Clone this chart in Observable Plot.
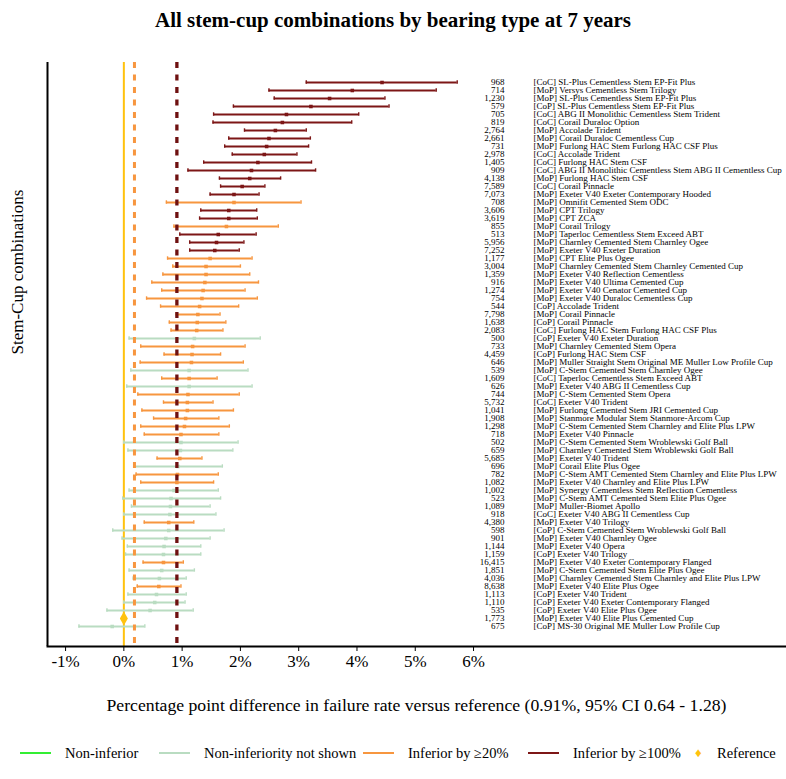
<!DOCTYPE html>
<html><head><meta charset="utf-8">
<script src="https://cdn.jsdelivr.net/npm/d3@7"></script>
<script src="https://cdn.jsdelivr.net/npm/@observablehq/plot@0.6"></script>
<style>
body{margin:0;background:#fff;font-family:"Liberation Serif","Times New Roman",serif;color:#000;}
#wrap{position:relative;width:786px;height:779px;overflow:hidden;}
#title{position:absolute;left:0;top:0;width:786px;height:40px;text-align:center;font-weight:bold;font-size:21px;line-height:40px;}
#chart{position:absolute;left:0;top:40px;}
#xlabel{position:absolute;left:47px;width:739px;top:694px;text-align:center;font-size:17.7px;line-height:22px;}
#legend{position:absolute;top:742px;left:0;width:786px;height:22px;font-size:14.5px;}
.li{position:absolute;top:0;height:22px;line-height:22px;white-space:nowrap;}
.sw{position:absolute;top:10px;width:31px;height:0;border-top:2px solid;}
</style></head>
<body><div id="wrap">
<div id="title">All stem-cup combinations by bearing type at 7 years</div>
<div id="chart"></div>
<div id="xlabel">Percentage point difference in failure rate versus reference (0.91%, 95% CI 0.64 - 1.28)</div>
<div id="legend"></div>
</div>
<script>
const names = [
"SL-Plus Cementless Stem EP-Fit Plus","Versys Cementless Stem Trilogy","SL-Plus Cementless Stem EP-Fit Plus","SL-Plus Cementless Stem EP-Fit Plus",
"ABG II Monolithic Cementless Stem Trident","Corail Duraloc Option","Accolade Trident","Corail Duraloc Cementless Cup",
"Furlong HAC Stem Furlong HAC CSF Plus","Accolade Trident","Furlong HAC Stem CSF","ABG II Monolithic Cementless Stem ABG II Cementless Cup",
"Furlong HAC Stem CSF","Corail Pinnacle","Exeter V40 Exeter Contemporary Hooded","Omnifit Cemented Stem ODC",
"CPT Trilogy","CPT ZCA","Corail Trilogy","Taperloc Cementless Stem Exceed ABT",
"Charnley Cemented Stem Charnley Ogee","Exeter V40 Exeter Duration","CPT Elite Plus Ogee","Charnley Cemented Stem Charnley Cemented Cup",
"Exeter V40 Reflection Cementless","Exeter V40 Ultima Cemented Cup","Exeter V40 Cenator Cemented Cup","Exeter V40 Duraloc Cementless Cup",
"Accolade Trident","Corail Pinnacle","Corail Pinnacle","Furlong HAC Stem Furlong HAC CSF Plus",
"Exeter V40 Exeter Duration","Charnley Cemented Stem Opera","Furlong HAC Stem CSF","Muller Straight Stem Original ME Muller Low Profile Cup",
"C-Stem Cemented Stem Charnley Ogee","Taperloc Cementless Stem Exceed ABT","Exeter V40 ABG II Cementless Cup","C-Stem Cemented Stem Opera",
"Exeter V40 Trident","Furlong Cemented Stem JRI Cemented Cup","Stanmore Modular Stem Stanmore-Arcom Cup","C-Stem Cemented Stem Charnley and Elite Plus LPW",
"Exeter V40 Pinnacle","C-Stem Cemented Stem Wroblewski Golf Ball","Charnley Cemented Stem Wroblewski Golf Ball","Exeter V40 Trident",
"Corail Elite Plus Ogee","C-Stem AMT Cemented Stem Charnley and Elite Plus LPW","Exeter V40 Charnley and Elite Plus LPW","Synergy Cementless Stem Reflection Cementless",
"C-Stem AMT Cemented Stem Elite Plus Ogee","Muller-Biomet Apollo","Exeter V40 ABG II Cementless Cup","Exeter V40 Trilogy",
"C-Stem Cemented Stem Wroblewski Golf Ball","Exeter V40 Charnley Ogee","Exeter V40 Opera","Exeter V40 Trilogy",
"Exeter V40 Exeter Contemporary Flanged","C-Stem Cemented Stem Elite Plus Ogee","Charnley Cemented Stem Charnley and Elite Plus LPW","Exeter V40 Elite Plus Ogee",
"Exeter V40 Trident","Exeter V40 Exeter Contemporary Flanged","Exeter V40 Elite Plus Ogee","Exeter V40 Elite Plus Cemented Cup",
"MS-30 Original ME Muller Low Profile Cup"];
const bearings = ["CoC","MoP","MoP","CoP","CoC","CoC","MoP","MoP","MoP","CoC","CoC","CoC","MoP","CoC","MoP","MoP",
"MoP","MoP","MoP","MoP","MoP","MoP","MoP","MoP","MoP","MoP","MoP","MoP","CoP","MoP","CoP","CoC",
"CoP","MoP","CoP","MoP","MoP","CoC","MoP","MoP","CoC","MoP","MoP","MoP","MoP","MoP","MoP","MoP",
"MoP","MoP","MoP","MoP","MoP","MoP","CoC","MoP","CoP","MoP","MoP","CoP","MoP","MoP","MoP","MoP",
"CoP","CoP","CoP","MoP","CoP"];
const counts = [968,714,1230,579,705,819,2764,2661,731,2978,1405,909,4138,7589,7073,708,
3606,3619,855,513,5956,7252,1177,3004,1359,916,1274,754,544,7798,1638,2083,
500,733,4459,646,539,1609,626,744,5732,1041,1908,1298,718,502,659,5685,
696,782,1082,1002,523,1089,918,4380,598,901,1144,1159,16415,1851,4036,8638,
1113,1110,535,1773,675];
const estimate = [4.43,3.92,3.53,3.21,2.79,2.72,2.60,2.49,2.45,2.41,2.30,2.19,2.16,2.03,1.89,1.89,
1.80,1.80,1.76,1.62,1.59,1.56,1.48,1.41,1.41,1.39,1.36,1.34,1.30,1.27,1.26,1.25,
1.21,1.18,1.17,1.16,1.12,1.12,1.12,1.10,1.09,1.09,1.06,1.04,0.98,0.98,0.97,0.96,
0.93,0.92,0.91,0.86,0.81,0.80,0.79,0.77,0.77,0.72,0.69,0.68,0.68,0.65,0.61,0.60,
0.56,0.53,0.45,0,-0.20];
const lower = [3.13,2.49,2.58,1.88,1.54,1.53,2.07,1.80,1.73,1.86,1.37,1.10,1.64,1.66,1.48,0.73,
1.32,1.30,0.86,0.96,1.13,1.13,0.75,0.84,0.67,0.48,0.65,0.39,0.63,0.90,0.78,0.81,
0.09,0.29,0.69,0.28,0.12,0.65,0.05,0.24,0.68,0.31,0.51,0.29,0.35,0.00,0.07,0.57,
0.17,0.21,0.29,0.09,-0.02,0.13,0.00,0.35,-0.19,-0.03,0.06,0.03,0.33,0.09,0.16,0.23,
0.07,0.00,-0.29,null,-0.77];
const upper = [5.72,5.36,4.48,4.55,4.03,3.91,3.13,3.20,3.17,2.97,3.22,3.29,2.69,2.42,2.32,3.04,
2.28,2.29,2.65,2.27,2.06,1.98,2.20,2.00,2.16,2.31,2.08,2.29,1.97,1.65,1.75,1.70,
2.34,2.08,1.66,2.05,2.13,1.60,2.20,1.98,1.53,1.88,1.63,1.81,1.63,1.96,1.87,1.34,
1.69,1.62,1.54,1.62,1.66,1.48,1.58,1.20,1.72,1.48,1.32,1.32,1.02,1.21,1.07,0.98,
1.07,1.05,1.19,null,0.36];
// D = inferior by >=100%, O = inferior by >=20%, N = non-inferiority not shown, R = reference
const status = "DDDDDDDDDDDDDDDODDODDDOOOOOOOOOONOOONONOOOOOONNONOONNNNONNNNONNONNNRN".split("");

const statusKeys = ["G","N","O","D","R"];
const statusLabels = ["Non-inferior","Non-inferiority not shown","Inferior by \u226520%","Inferior by \u2265100%","Reference"];
const statusColors = ["#33ee33","#b9dcc1","#f7963f","#7d1616","#ffc20e"];
const xTicks = [-1,0,1,2,3,4,5,6];
const refLines = [0.182, 0.91];

const rows = names.map((n,i)=>({key:String(i), label:`[${bearings[i]}] ${n}`, n:counts[i],
  est:estimate[i], lo:lower[i], hi:upper[i], status:status[i]}));
const ci = rows.filter(d=>d.status!=="R");
const ref = rows.filter(d=>d.status==="R");
const fmt = d3.format(",");
const col = Object.fromEntries(statusKeys.map((k,i)=>[k,statusColors[i]]));

const chart = Plot.plot({
  width:786, height:636, marginLeft:47, marginRight:0, marginTop:22, marginBottom:30,
  style:{fontFamily:"'Liberation Serif','Times New Roman',serif", background:"#fff", color:"#000"},
  x:{domain:[-1.31,11.37], axis:null},
  y:{type:"band", domain:rows.map(d=>d.key), paddingInner:0, paddingOuter:2, axis:null},
  color:{domain:statusKeys, range:statusColors},
  marks:[
    Plot.ruleX([0],{stroke:col.R, strokeWidth:2}),
    Plot.ruleY(ci,{y:"key", x1:"lo", x2:"hi", stroke:"status", strokeWidth:1.9}),
    Plot.tickX(ci,{y:"key", x:"lo", stroke:"status", strokeWidth:1.4, insetTop:2.3, insetBottom:2.3}),
    Plot.tickX(ci,{y:"key", x:"hi", stroke:"status", strokeWidth:1.4, insetTop:2.3, insetBottom:2.3}),
    Plot.dot(ci,{y:"key", x:"est", fill:"status", symbol:"square", r:2}),
    Plot.ruleX([refLines[0]],{stroke:col.O, strokeWidth:3, strokeDasharray:"6,6.5"}),
    Plot.ruleX([refLines[1]],{stroke:"#6e1010", strokeWidth:3.3, strokeDasharray:"6,6.5"}),
    Plot.dot(ref,{y:"key", x:"est", fill:"status", symbol:"diamond", r:4.2}),
    Plot.text(rows,{y:"key", x:6.53, text:d=>fmt(d.n), textAnchor:"end", fontSize:9}),
    Plot.text(rows,{y:"key", x:7.03, text:"label", textAnchor:"start", fontSize:9}),
    Plot.ruleX([-1.31],{stroke:"#000", strokeWidth:2}),
    Plot.frame({anchor:"bottom", stroke:"#000", strokeWidth:2}),
    Plot.axisX({ticks:xTicks, tickFormat:d=>d+"%", tickSize:5, tickPadding:3, fontSize:17, label:null, stroke:"#000"}),
    Plot.text(["Stem-Cup combinations"],{frameAnchor:"left", rotate:-90, dx:-30, fontSize:17})
  ]
});
document.getElementById("chart").appendChild(chart);

const legendX = [20,159,363,528,695];
const legend = document.getElementById("legend");
statusKeys.forEach((k,i)=>{
  const it = document.createElement("div");
  it.className="li"; it.style.left=legendX[i]+"px";
  if (k==="R") {
    it.innerHTML = `<span style="color:${statusColors[i]};font-size:13px;position:absolute;left:0;">\u2666</span><span style="position:absolute;left:22px;">${statusLabels[i]}</span>`;
  } else {
    it.innerHTML = `<div class="sw" style="border-color:${statusColors[i]}"></div><span style="position:absolute;left:45px;">${statusLabels[i]}</span>`;
  }
  legend.appendChild(it);
});
</script>
</body></html>
